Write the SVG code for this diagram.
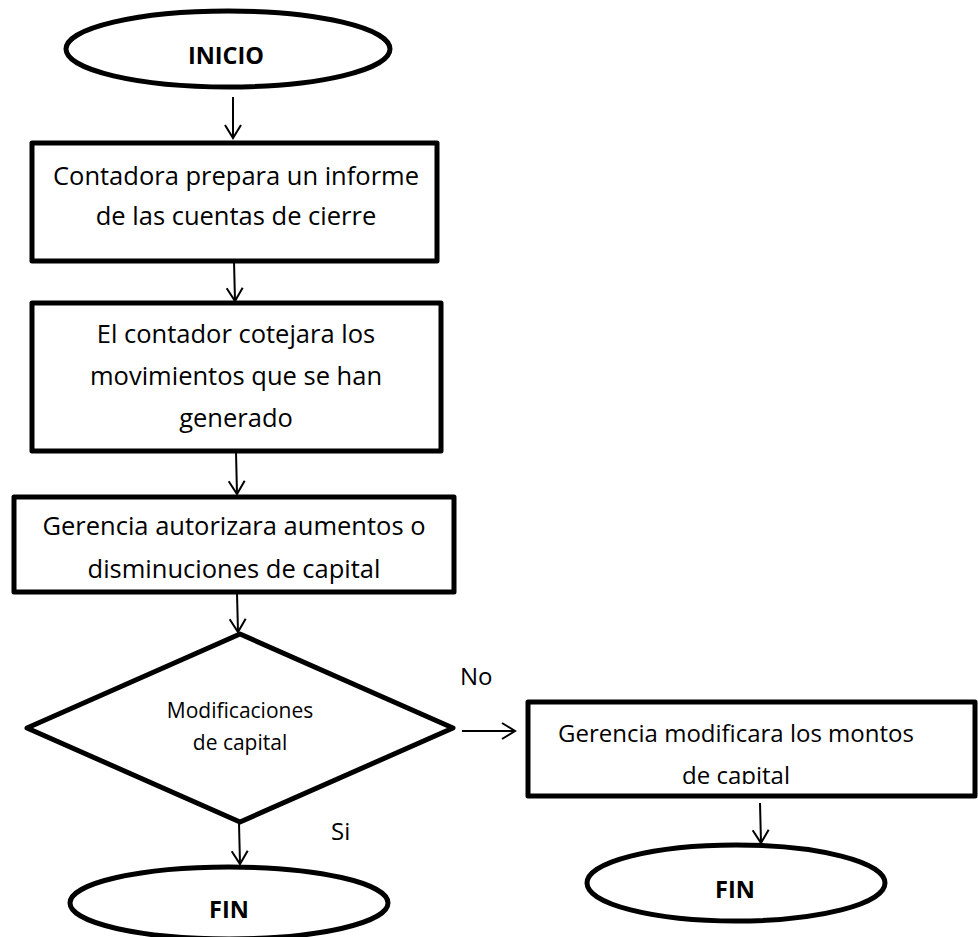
<svg xmlns="http://www.w3.org/2000/svg" width="978" height="937" viewBox="0 0 978 937">
<style>
.shape{fill:#fff;stroke:#000;stroke-width:5;stroke-linejoin:round}
.con{stroke:#000;stroke-width:2;fill:none}
.t{font-family:"Open Sans","Noto Sans",sans-serif;font-size:25.5px;fill:#000;text-anchor:middle}
.r{font-family:"Open Sans","Noto Sans",sans-serif;font-size:24px;fill:#000;text-anchor:middle}
.b{font-family:"Open Sans","Noto Sans",sans-serif;font-size:23.5px;font-weight:bold;fill:#000;text-anchor:middle}
.s{font-family:"Open Sans","Noto Sans",sans-serif;font-size:21px;fill:#000;text-anchor:middle}
.l{font-family:"Open Sans","Noto Sans",sans-serif;font-size:24px;fill:#000}
</style>
<defs>
<marker id="ah" markerUnits="userSpaceOnUse" markerWidth="20" markerHeight="20" refX="14" refY="9" orient="auto">
<path d="M1,1 L14,9 L1,17" fill="none" stroke="#000" stroke-width="2"/>
</marker>
<clipPath id="clipR"><rect x="528" y="702" width="450" height="82"/></clipPath>
</defs>
<g id="connectors">
<line class="con" x1="233" y1="97" x2="233" y2="138" marker-end="url(#ah)"/>
<line class="con" x1="234" y1="261" x2="235" y2="301" marker-end="url(#ah)"/>
<line class="con" x1="236" y1="452" x2="237" y2="494" marker-end="url(#ah)"/>
<line class="con" x1="237" y1="593" x2="238" y2="632" marker-end="url(#ah)"/>
<line class="con" x1="239" y1="823" x2="240" y2="864" marker-end="url(#ah)"/>
<line class="con" x1="462" y1="731" x2="515" y2="731" marker-end="url(#ah)"/>
<line class="con" x1="760" y1="803" x2="761" y2="843" marker-end="url(#ah)"/>
</g>
<g id="inicio">
<ellipse class="shape" cx="228" cy="49" rx="162" ry="38"/>
<text class="b" x="226" y="64">INICIO</text>
</g>
<g id="box1">
<rect class="shape" x="32" y="143" width="405" height="118"/>
<text class="t" x="236" y="185">Contadora prepara un informe</text>
<text class="t" x="236" y="225">de las cuentas de cierre</text>
</g>
<g id="box2">
<rect class="shape" x="32" y="303" width="409" height="148"/>
<text class="t" x="236" y="343">El contador cotejara los</text>
<text class="t" x="236" y="385">movimientos que se han</text>
<text class="t" x="236" y="427">generado</text>
</g>
<g id="box3">
<rect class="shape" x="14" y="497" width="440" height="95"/>
<text class="t" x="234" y="535">Gerencia autorizara aumentos o</text>
<text class="t" x="234" y="578">disminuciones de capital</text>
</g>
<g id="decision">
<polygon class="shape" points="240,634 453,728 240,822 27,728"/>
<text class="s" x="240" y="718">Modificaciones</text>
<text class="s" x="240" y="750">de capital</text>
</g>
<g id="box4">
<rect class="shape" x="528" y="702" width="447" height="94"/>
<text class="r" x="736" y="742">Gerencia modificara los montos</text>
<text class="r" x="736" y="784" clip-path="url(#clipR)">de capital</text>
</g>
<g id="fin1">
<ellipse class="shape" cx="229" cy="903" rx="159" ry="36"/>
<text class="b" x="229" y="918">FIN</text>
</g>
<g id="fin2">
<ellipse class="shape" cx="736" cy="883" rx="149" ry="38"/>
<text class="b" x="735" y="898">FIN</text>
</g>
<g id="labels">
<text class="l" x="460" y="685">No</text>
<text class="l" x="331" y="840">Si</text>
</g>
</svg>
